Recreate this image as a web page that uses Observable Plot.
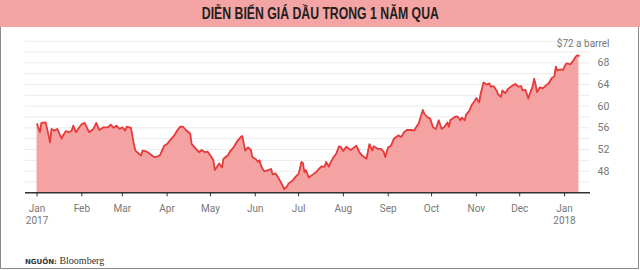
<!DOCTYPE html>
<html><head><meta charset="utf-8">
<script src="https://cdn.jsdelivr.net/npm/d3@7"></script>
<script src="https://cdn.jsdelivr.net/npm/@observablehq/plot@0.6"></script>
<style>
html,body{margin:0;padding:0;background:#fff;}
#wrap{position:relative;width:640px;height:270px;overflow:hidden;background:#fff;}
#title{position:absolute;left:0;top:0;width:640px;height:27px;background:#f4a4a4;text-align:center;line-height:28px;}
#title span{display:inline-block;color:#231f20;font:bold 17px "Liberation Sans","DejaVu Sans",sans-serif;transform-origin:50% 50%;white-space:nowrap;}
#box{position:absolute;left:0;top:27px;width:637px;height:241px;border-left:1px solid #8a8a8a;border-right:1px solid #8a8a8a;border-bottom:1px solid #8a8a8a;}
#chart{position:absolute;left:0;top:27px;}
#caption{position:absolute;left:25px;top:250px;color:#333;white-space:nowrap;}
#caption b{font:bold 7px "DejaVu Sans",sans-serif;}
#caption span{font:10px "Liberation Serif","DejaVu Serif",serif;}
</style></head>
<body>
<div id="wrap">
  <div id="title"><span id="titletext">DIỄN BIẾN GIÁ DẦU TRONG 1 NĂM QUA</span></div>
  <div id="box"></div>
  <div id="chart"></div>
  <div id="caption"><b>NGUỒN:</b><span> Bloomberg</span></div>
</div>
<script>
const dates = [
"2017-01-01","2017-01-03","2017-01-04","2017-01-07","2017-01-08","2017-01-10","2017-01-11","2017-01-13","2017-01-15","2017-01-16",
"2017-01-18","2017-01-19","2017-01-21","2017-01-23","2017-01-25","2017-01-26","2017-01-28","2017-01-30","2017-02-01","2017-02-03",
"2017-02-06","2017-02-09","2017-02-11","2017-02-13","2017-02-16","2017-02-19","2017-02-21","2017-02-23","2017-02-25","2017-02-27",
"2017-03-01","2017-03-03","2017-03-04","2017-03-07","2017-03-09","2017-03-10","2017-03-14","2017-03-15","2017-03-18","2017-03-20",
"2017-03-23","2017-03-25","2017-03-27","2017-03-30","2017-04-01","2017-04-03","2017-04-06","2017-04-08","2017-04-10","2017-04-12",
"2017-04-14","2017-04-17","2017-04-18","2017-04-21","2017-04-23","2017-04-25","2017-04-27","2017-04-29","2017-05-01","2017-05-03",
"2017-05-04","2017-05-06","2017-05-07","2017-05-09","2017-05-10","2017-05-13","2017-05-15","2017-05-17","2017-05-20","2017-05-22",
"2017-05-23","2017-05-25","2017-05-27","2017-05-29","2017-05-30","2017-06-01","2017-06-03","2017-06-04","2017-06-05","2017-06-07",
"2017-06-09","2017-06-12","2017-06-13","2017-06-15","2017-06-16","2017-06-18","2017-06-20","2017-06-21","2017-06-23","2017-06-24",
"2017-06-27","2017-06-29","2017-07-01","2017-07-03","2017-07-04","2017-07-05","2017-07-06","2017-07-08","2017-07-11","2017-07-13",
"2017-07-15","2017-07-17","2017-07-19","2017-07-20","2017-07-22","2017-07-23","2017-07-25","2017-07-27","2017-07-29","2017-07-30",
"2017-08-01","2017-08-03","2017-08-06","2017-08-08","2017-08-10","2017-08-12","2017-08-14","2017-08-17","2017-08-19","2017-08-21",
"2017-08-22","2017-08-25","2017-08-27","2017-08-29","2017-08-30","2017-09-01","2017-09-03","2017-09-05","2017-09-08","2017-09-10",
"2017-09-12","2017-09-14","2017-09-17","2017-09-19","2017-09-21","2017-09-22","2017-09-25","2017-09-26","2017-09-28","2017-09-30",
"2017-10-02","2017-10-04","2017-10-06","2017-10-08","2017-10-10","2017-10-12","2017-10-13","2017-10-14","2017-10-17","2017-10-19",
"2017-10-21","2017-10-22","2017-10-24","2017-10-25","2017-10-27","2017-10-29","2017-10-31","2017-11-01","2017-11-03","2017-11-04",
"2017-11-06","2017-11-08","2017-11-10","2017-11-11","2017-11-13","2017-11-15","2017-11-16","2017-11-18","2017-11-19","2017-11-21",
"2017-11-23","2017-11-26","2017-11-28","2017-11-30","2017-12-02","2017-12-03","2017-12-05","2017-12-07","2017-12-08","2017-12-10",
"2017-12-11","2017-12-12","2017-12-13","2017-12-15","2017-12-17","2017-12-19","2017-12-21","2017-12-23","2017-12-25","2017-12-26",
"2017-12-27","2017-12-29","2017-12-31","2018-01-02","2018-01-03","2018-01-05","2018-01-07","2018-01-09","2018-01-10","2018-01-11"
];
const prices = [
56.7,55.2,56.9,57.0,55.8,53.3,55.8,55.5,55.8,55.2,
54.0,54.6,55.4,55.2,55.5,56.4,55.2,56.0,56.7,56.9,
55.2,55.8,56.9,55.6,56.1,56.1,56.6,56.0,56.4,55.8,
56.1,55.5,56.2,56.0,53.0,51.8,50.9,51.8,51.6,51.2,
50.6,50.7,50.9,52.7,53.0,53.7,54.6,55.5,56.2,56.2,
55.6,54.9,53.0,52.1,51.5,51.9,51.5,51.6,50.9,50.0,
48.2,49.0,49.4,48.7,50.3,50.9,51.8,52.4,53.7,54.3,
54.5,51.8,52.4,51.9,50.6,50.3,49.7,50.0,49.0,48.0,
48.1,48.4,47.4,47.6,47.2,46.3,45.3,44.7,45.2,45.7,
46.3,47.0,47.5,49.7,49.5,47.8,48.2,46.8,47.4,47.8,
48.4,48.9,48.8,49.7,48.8,49.5,50.5,51.2,52.6,52.5,
51.7,52.5,51.9,52.3,52.7,51.5,50.9,50.3,53.0,51.8,
52.6,52.1,52.1,51.5,50.6,52.4,52.7,54.0,54.6,54.3,
55.2,55.6,55.6,55.5,56.4,56.7,59.3,58.6,58.0,57.7,
56.1,55.8,57.4,55.8,56.2,57.0,56.2,57.4,58.0,58.1,
57.4,57.9,57.4,58.5,59.1,60.3,61.0,61.5,60.7,62.3,
64.4,64.0,64.2,63.6,63.7,62.9,62.2,61.7,62.9,62.4,
63.2,63.8,64.1,63.6,63.7,62.9,63.0,61.4,62.3,63.7,
65.1,64.0,62.6,63.5,63.3,63.8,64.2,65.1,65.5,67.3,
66.6,66.8,66.7,67.8,67.9,67.7,68.4,69.2,69.4,69.3
];
const monthTickDates = ["2017-01-01","2017-02-01","2017-03-01","2017-04-01","2017-05-01","2017-06-01","2017-07-01","2017-08-01","2017-09-01","2017-10-01","2017-11-01","2017-12-01","2018-01-01"];
const monthLabels = ["Jan\n2017","Feb","Mar","Apr","May","Jun","Jul","Aug","Sep","Oct","Nov","Dec","Jan\n2018"];
const yTicks = [48,52,56,60,64,68];
const gridValues = [44,46,48,50,52,54,56,58,60,62,64,66,68,70,72];
const topLabel = "$72 a barrel";
const xDomain = ["2016-12-24","2018-01-19"];
const yDomain = [44,72];

// condense the title to the reference's narrow width
const tt = document.getElementById("titletext");
const tw = tt.getBoundingClientRect().width;
tt.style.transform = `scaleX(${237 / tw})`;

const data = dates.map((d,i)=>({date:new Date(d), price:prices[i]}));
const ticks = monthTickDates.map(d=>new Date(d));
const labelMap = new Map(ticks.map((t,i)=>[+t, monthLabels[i]]));

const chart = Plot.plot({
  width:640, height:200,
  marginTop:13.7, marginBottom:34.7, marginLeft:25, marginRight:50,
  x:{type:"utc", domain:xDomain.map(d=>new Date(d))},
  y:{domain:yDomain},
  style:{fontFamily:"Roboto, sans-serif", fontSize:"10px", color:"#777", background:"transparent"},
  marks:[
    Plot.ruleY(gridValues, {stroke:"#ebebeb", strokeWidth:1}),
    Plot.areaY(data, {x:"date", y1:yDomain[0], y2:"price", fill:"#f5a3a2"}),
    Plot.lineY(data, {x:"date", y:"price", stroke:"#e63b3b", strokeWidth:1.8}),
    Plot.ruleY([yDomain[0]], {stroke:"#333", strokeWidth:1.4}),
    Plot.axisX(ticks, {tickSize:4, tickPadding:6, tickFormat:d=>labelMap.get(+d), lineHeight:1.25, stroke:"#333", fill:"#777"}),
    Plot.axisY(yTicks, {anchor:"right", tickSize:0, tickPadding:7, fill:"#777", fontSize:10.5}),
    Plot.text([{x:new Date(xDomain[1]), y:yDomain[1]}], {x:"x", y:"y", text:()=>topLabel, textAnchor:"end", dx:19, dy:3, fill:"#777"})
  ]
});
document.getElementById("chart").appendChild(chart);
</script>
</body></html>
